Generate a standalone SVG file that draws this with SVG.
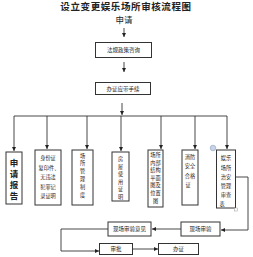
<svg xmlns="http://www.w3.org/2000/svg" width="253" height="257" viewBox="0 0 253 257">
<style>
text{font-family:"Noto Sans CJK SC","Noto Sans CJK JP",sans-serif;fill:#222}
.box{fill:#fff;stroke:#333;stroke-width:1}
.ln{fill:none;stroke:#333;stroke-width:0.9}
.t{font-size:5.5px;text-anchor:middle}
.v{font-size:5.2px;text-anchor:middle}
</style>
<defs>
<marker id="ah" viewBox="0 0 6 6" refX="6" refY="3" markerWidth="4" markerHeight="4" orient="auto" markerUnits="userSpaceOnUse">
<path d="M0,0 L6,3 L0,6 z" fill="#222"/>
</marker>
</defs>
<rect width="253" height="257" fill="#fff"/>
<text x="126" y="10" style="font-size:9.5px;font-weight:bold;text-anchor:middle;letter-spacing:0.6px">设立变更娱乐场所审核流程图</text>
<text x="124" y="23" style="font-size:8.5px;text-anchor:middle">申请</text>
<g id="connectors">
<line class="ln" x1="124" y1="28" x2="124" y2="37" marker-end="url(#ah)"/>
<line class="ln" x1="124" y1="62" x2="124" y2="72" marker-end="url(#ah)"/>
<line class="ln" x1="122" y1="103" x2="122" y2="115" marker-end="url(#ah)"/>
<line class="ln" x1="14" y1="116" x2="227" y2="116"/>
<line class="ln" x1="14" y1="116" x2="14" y2="151" marker-end="url(#ah)"/>
<line class="ln" x1="47" y1="116" x2="47" y2="149" marker-end="url(#ah)"/>
<line class="ln" x1="87" y1="116" x2="87" y2="149" marker-end="url(#ah)"/>
<line class="ln" x1="121" y1="116" x2="121" y2="151" marker-end="url(#ah)"/>
<line class="ln" x1="161" y1="116" x2="161" y2="149" marker-end="url(#ah)"/>
<line class="ln" x1="195" y1="116" x2="195" y2="149" marker-end="url(#ah)"/>
<line class="ln" x1="227" y1="116" x2="227" y2="149" marker-end="url(#ah)"/>
<polyline class="ln" points="236,177 248,177 248,230 221,230" marker-end="url(#ah)"/>
<line class="ln" x1="181" y1="229" x2="152" y2="229" marker-end="url(#ah)"/>
<polyline class="ln" points="108,229 61,229 61,251 99,251" marker-end="url(#ah)"/>
<line class="ln" x1="133" y1="249" x2="158" y2="249" marker-end="url(#ah)"/>
</g>
<g id="n-consult"><rect class="box" x="95.5" y="42.5" width="56" height="15"/><text class="t" x="123.5" y="52">法规政策咨询</text></g>
<g id="n-docs"><rect class="box" x="95.5" y="82.5" width="55" height="12"/><text class="t" x="123" y="90.5">办证应带手续</text></g>
<g id="n-report"><rect class="box" x="6" y="152" width="16" height="52"/>
<text style="font-size:8.5px;font-weight:bold;text-anchor:middle"><tspan x="14" y="166">申</tspan><tspan x="14" y="177">请</tspan><tspan x="14" y="188">报</tspan><tspan x="14" y="199">告</tspan></text></g>
<g id="n-id"><rect class="box" x="35" y="150" width="26" height="55"/>
<text class="v"><tspan x="48" y="160">身份证</tspan><tspan x="49" y="169.5">复印件、</tspan><tspan x="48" y="179">无违法</tspan><tspan x="48" y="188.5">犯罪记</tspan><tspan x="48" y="198">录证明</tspan></text></g>
<g id="n-rules"><rect class="box" x="72" y="150" width="21" height="55"/>
<text class="v"><tspan x="82.5" y="158">场</tspan><tspan x="82.5" y="165">所</tspan><tspan x="82.5" y="173">管</tspan><tspan x="82.5" y="181">理</tspan><tspan x="82.5" y="189">制</tspan><tspan x="82.5" y="197">度</tspan></text></g>
<g id="n-house"><rect class="box" x="112" y="152" width="17" height="49"/>
<text class="v"><tspan x="120.5" y="161">房</tspan><tspan x="120.5" y="168.5">屋</tspan><tspan x="120.5" y="176">使</tspan><tspan x="120.5" y="183.5">用</tspan><tspan x="120.5" y="191">证</tspan><tspan x="120.5" y="198.5">明</tspan></text></g>
<g id="n-plan"><rect class="box" x="148" y="150" width="15" height="57"/>
<text class="v"><tspan x="155.5" y="157">场所</tspan><tspan x="155.5" y="164.5">内部</tspan><tspan x="155.5" y="172">结构</tspan><tspan x="155.5" y="179.5">平面</tspan><tspan x="155.5" y="187">图及</tspan><tspan x="155.5" y="194.5">位置</tspan><tspan x="155.5" y="202.5">图</tspan></text></g>
<g id="n-fire"><rect class="box" x="182" y="150" width="16" height="55"/>
<text class="v"><tspan x="190" y="159">消防</tspan><tspan x="190" y="168">安全</tspan><tspan x="190" y="177.5">合格</tspan><tspan x="188" y="187">证</tspan></text></g>
<g id="n-form"><rect class="box" x="216.5" y="150" width="19" height="58"/>
<text class="v"><tspan x="226" y="160">娱乐</tspan><tspan x="226" y="169.5">场所</tspan><tspan x="226" y="179">治安</tspan><tspan x="226" y="188">管理</tspan><tspan x="226" y="197">审查</tspan><tspan x="222" y="206">表</tspan></text></g>
<circle cx="213" cy="148" r="2.8" fill="#c9d3e6" stroke="#8fa0c0" stroke-width="0.6"/>
<rect x="234.5" y="208" width="3" height="3" fill="#fff" stroke="#999" stroke-width="0.5"/>
<g id="n-inspect"><rect class="box" x="181" y="222" width="39" height="14"/><text class="t" x="200.5" y="231">现场审验</text></g>
<g id="n-opinion"><rect class="box" x="108" y="222" width="43" height="14"/><text class="t" x="129.5" y="231">现场审验意见</text></g>
<g id="n-approve"><rect class="box" x="99.5" y="243.5" width="33" height="11"/><text class="t" x="116" y="251">审批</text></g>
<g id="n-issue"><rect class="box" x="158.5" y="243.5" width="40" height="11"/><text class="t" x="178.5" y="251">办证</text></g>
</svg>
